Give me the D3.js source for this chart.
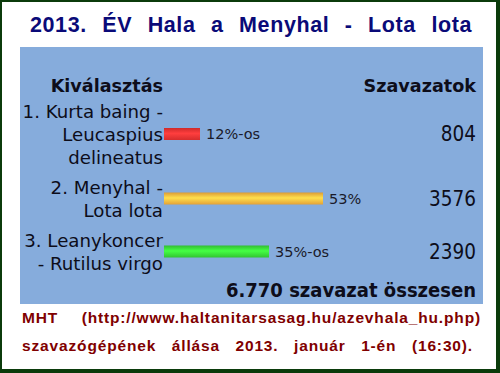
<!DOCTYPE html>
<html>
<head>
<meta charset="utf-8">
<script src="https://cdn.jsdelivr.net/npm/d3@7"></script>
<style>
  body { margin: 0; background: #fff; }
  svg { display: block; }
  .title text { font-family: 'Liberation Sans', Arial, sans-serif; font-weight: bold; font-size: 21.5px; fill: #0a0a78; letter-spacing: 0.6px; }
  .foot text { font-family: 'Liberation Sans', Arial, sans-serif; font-weight: bold; font-size: 15.5px; fill: #800000; letter-spacing: 0.85px; }
</style>
</head>
<body>
<div id="chart"></div>
<script>
// data
var titleWords = ["2013.", "ÉV", "Hala", "a", "Menyhal", "-", "Lota", "lota"];
var categories = [
  ["1. Kurta baing -", "Leucaspius", "delineatus"],
  ["2. Menyhal -", "Lota lota"],
  ["3. Leanykoncer", "- Rutilus virgo"]
];
var percents = [12, 53, 35];
var pctLabels = ["12%-os", "53%", "35%-os"];
var votes = [804, 3576, 2390];
var barColors = ["#e63030", "#f5ae3c", "#36d236"];
var headLeft = "Kiválasztás", headRight = "Szavazatok";
var totalText = "6.770 szavazat összesen";
var footLines = [
  ["MHT", "(http://www.haltanitarsasag.hu/azevhala_hu.php)"],
  ["szavazógépének", "állása", "2013.", "január", "1-én", "(16:30)."]
];

var W = 500, H = 373;
var sans = "'DejaVu Sans', Tahoma, sans-serif";
var cond = "'DejaVu Sans Condensed', Tahoma, sans-serif";
var ink = "#0d0d1a";

var svg = d3.select("#chart").append("svg")
  .attr("width", W).attr("height", H);

// frame
svg.append("rect").attr("width", W).attr("height", H).attr("fill", "#0b3b0b");
svg.append("rect").attr("x", 2).attr("y", 2).attr("width", 494).attr("height", 367).attr("fill", "#fff");

// blue panel
svg.append("rect").attr("x", 20).attr("y", 47).attr("width", 463).attr("height", 257).attr("fill", "#86acdc");

// spreads words evenly between x0 and x1
function justify(words, x0, x1, y, cls) {
  var g = svg.append("g").attr("class", cls);
  var t = g.selectAll("text").data(words).enter().append("text")
    .attr("y", y).text(function(d){ return d; });
  var ws = [];
  t.each(function(){ ws.push(this.getComputedTextLength()); });
  var gap = (x1 - x0 - d3.sum(ws)) / (words.length - 1);
  var x = x0;
  t.attr("x", function(d, i){ var v = x; x += ws[i] + gap; return v; });
  return t;
}

justify(titleWords, 30, 472, 32, "title");

// row layout: height depends on number of label lines
var lineH = 23, rowPad = 7, top0 = 96;
var rowH = categories.map(function(c){ return c.length * lineH + rowPad; });
var cum = Array.from(d3.cumsum(rowH));
var rowTop = rowH.map(function(h, i){ return top0 + (i ? cum[i - 1] : 0); });
var yMid = rowTop.map(function(t, i){ return t + rowH[i] / 2; });

var x = d3.scaleLinear().domain([0, 100]).range([164, 464]);

// gradients for the bars
var defs = svg.append("defs");
barColors.forEach(function(c, i){
  var gr = defs.append("linearGradient").attr("id", "g" + i)
    .attr("x1", 0).attr("y1", 0).attr("x2", 0).attr("y2", 1);
  gr.append("stop").attr("offset", "0").attr("stop-color", d3.color(c).darker(0.3));
  gr.append("stop").attr("offset", "0.45").attr("stop-color", d3.color(c).brighter(0.7));
  gr.append("stop").attr("offset", "1").attr("stop-color", d3.color(c).darker(0.2));
});

// headers
svg.append("text").attr("x", 163).attr("y", 92).attr("text-anchor", "end")
  .style("font-family", sans).style("font-weight", "bold").style("font-size", "17.6px")
  .style("fill", ink).text(headLeft);
svg.append("text").attr("x", 476).attr("y", 92).attr("text-anchor", "end")
  .style("font-family", sans).style("font-weight", "bold").style("font-size", "17.6px")
  .style("fill", ink).text(headRight);

var rows = svg.selectAll(".row").data(categories).enter().append("g").attr("class", "row");

rows.each(function(lines, i){
  var g = d3.select(this);
  var first = yMid[i] - (lines.length - 1) * lineH / 2 + 6.5;
  g.selectAll("text.lab").data(lines).enter().append("text").attr("class", "lab")
    .attr("x", 163).attr("y", function(d, j){ return first + j * lineH; })
    .attr("text-anchor", "end")
    .style("font-family", sans).style("font-size", "18.2px").style("fill", ink)
    .text(function(d){ return d; });
});

rows.append("rect")
  .attr("x", x(0)).attr("y", function(d, i){ return yMid[i] - 6; })
  .attr("width", function(d, i){ return x(percents[i]) - x(0); })
  .attr("height", 12)
  .attr("fill", function(d, i){ return "url(#g" + i + ")"; });

rows.append("text")
  .attr("x", function(d, i){ return x(percents[i]) + 6; })
  .attr("y", function(d, i){ return yMid[i] + 5; })
  .style("font-family", sans).style("font-size", "14.5px").style("fill", "#1a1a2a")
  .text(function(d, i){ return pctLabels[i]; });

rows.append("text")
  .attr("x", 476).attr("y", function(d, i){ return yMid[i] + 7; })
  .attr("text-anchor", "end")
  .style("font-family", cond).style("font-size", "20.5px").style("fill", ink)
  .text(function(d, i){ return votes[i]; });

svg.append("text").attr("x", 476).attr("y", 297).attr("text-anchor", "end")
  .style("font-family", cond).style("font-weight", "bold").style("font-size", "20px")
  .style("fill", ink).text(totalText);

// footer
justify(footLines[0], 22, 481, 323, "foot");
justify(footLines[1], 22, 473, 351, "foot");
</script>
</body>
</html>
